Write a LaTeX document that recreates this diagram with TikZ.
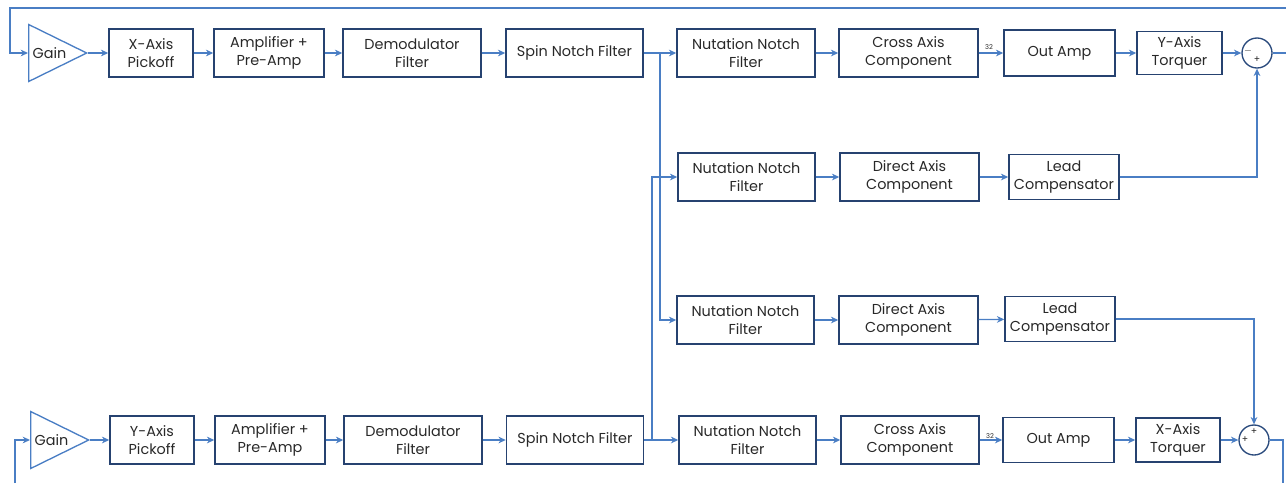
\documentclass[tikz,border=0pt]{standalone}
\usepackage{fontspec}
\setmainfont{Poppins}
\usetikzlibrary{arrows.meta,shapes.geometric}
\definecolor{lineblue}{RGB}{74,126,196}
\definecolor{boxblue}{RGB}{38,66,112}
\definecolor{txtgray}{RGB}{40,40,40}
\tikzset{
  blk/.style={draw=boxblue,line width=1.1pt,minimum height=36pt,inner sep=0pt,align=center,text=txtgray,font=\fontsize{10.8}{13.5}\selectfont},
  gainamp/.style={isosceles triangle,isosceles triangle stretches,shape border rotate=0,draw=lineblue,line width=1pt,minimum width=42.75pt,minimum height=43.5pt,inner sep=0pt,text=txtgray,font=\fontsize{10.8}{12}\selectfont},
  sumpt/.style={circle,draw=boxblue!85!lineblue,line width=1pt,minimum size=22.5pt,inner sep=0pt},
  sgn/.style={inner sep=0pt,text=txtgray,font=\fontsize{7}{7}\selectfont},
  tag/.style={inner sep=0pt,text=txtgray,font=\fontsize{5}{5}\selectfont},
  sig/.style={lineblue,line width=1pt,-{Stealth[length=5.5pt,width=5pt]}},
  wire/.style={lineblue,line width=1pt}
}
\begin{document}
\begin{tikzpicture}[x=0.75pt,y=-0.75pt]
        \useasboundingbox (0,0) rectangle (1286,483);
        %上排;
            \node[gainamp] (gainx) at (49.5,53) {Gain};
            \node[blk,minimum width=63pt] (pickx) at (151,53) {X-Axis\\Pickoff};
            \node[blk,minimum width=82.5pt] (ampx) at (269,53) {Amplifier +\\Pre-Amp};
            \node[blk,minimum width=103.5pt] (demx) at (412,53) {Demodulator\\Filter};
            \node[blk,minimum width=102.75pt] (spinx) at (574.5,53) {Spin Notch Filter};
            \node[blk,minimum width=103.5pt] (nnfa) at (746,53) {Nutation Notch\\Filter};
            \node[blk,minimum width=104.25pt] (cross1) at (908.5,53) {Cross Axis\\Component};
            \node[blk,minimum width=83.25pt,minimum height=34.5pt] (outa) at (1059.5,53) {Out Amp};
            \node[blk,minimum width=63.75pt,minimum height=32.25pt] (torqy) at (1179.5,53) {Y-Axis\\Torquer};
            \node[sumpt] (sum1) at (1257,53) {};
            \node[sgn] (m1) at (1248,51) {$-$};
            \node[sgn] (p1) at (1257,60) {+};
            \node[tag] (n1) at (989,47) {32};
        %中间两排;
            \node[blk,minimum width=102.75pt] (nnfb) at (746.5,177) {Nutation Notch\\Filter};
            \node[blk,minimum width=104.25pt] (direct1) at (909.5,177) {Direct Axis\\Component};
            \node[blk,minimum width=82.5pt,minimum height=34pt] (leadb) at (1064,177) {Lead\\Compensator};
            \node[blk,minimum width=102.75pt] (nnfc) at (745.5,320) {Nutation Notch\\Filter};
            \node[blk,minimum width=104.25pt] (direct2) at (908.5,320) {Direct Axis\\Component};
            \node[blk,minimum width=82.5pt,minimum height=34pt] (leadc) at (1060,319) {Lead\\Compensator};
        %下排;
            \node[gainamp] (gainy) at (51.5,440) {Gain};
            \node[blk,minimum width=63pt] (picky) at (152,440) {Y-Axis\\Pickoff};
            \node[blk,minimum width=82.5pt] (ampy) at (270,440) {Amplifier +\\Pre-Amp};
            \node[blk,minimum width=103.5pt] (demy) at (413,440) {Demodulator\\Filter};
            \node[blk,minimum width=102.75pt] (spiny) at (575,440) {Spin Notch Filter};
            \node[blk,minimum width=102.75pt] (nnfd) at (747.5,440) {Nutation Notch\\Filter};
            \node[blk,minimum width=103.5pt] (cross2) at (910,440) {Cross Axis\\Component};
            \node[blk,minimum width=83.25pt,minimum height=34pt] (outb) at (1058.5,440) {Out Amp};
            \node[blk,minimum width=63pt,minimum height=33pt] (torqx) at (1178,440) {X-Axis\\Torquer};
            \node[sumpt] (sum2) at (1254,440) {};
            \node[sgn] (p2) at (1254,432) {+};
            \node[sgn] (p3) at (1245,440) {+};
            \node[tag] (n2) at (990,436) {32};
        %连线;
            \coordinate (fbR) at (1286,8);
            \coordinate (fbL) at (10,8);
            \coordinate (inY) at (15,483);
            \coordinate (outX) at (1286,53);
            \coordinate (outY) at (1283,483);
            \coordinate (jx) at (660,53);
            \coordinate (jy) at (652,440);
            \draw[sig] (fbR) -- (fbL) |- (gainx.west);
            \draw[sig] (inY) |- (gainy.west);
            \draw[sig] (gainx.apex) -- (pickx.west);
            \draw[sig] (gainy.apex) -- (picky.west);
            \foreach \a/\b in {pickx/ampx,ampx/demx,demx/spinx,spinx/nnfa,nnfa/cross1,cross1/outa,outa/torqy,torqy/sum1,
                               picky/ampy,ampy/demy,demy/spiny,spiny/nnfd,nnfd/cross2,cross2/outb,outb/torqx,torqx/sum2,
                               nnfb/direct1,direct1/leadb,nnfc/direct2,direct2/leadc}
                \draw[sig] (\a) -- (\b);
            \draw[sig] (jx) |- (nnfc);
            \draw[sig] (jy) |- (nnfb);
            \draw[sig] (leadb) -| (sum1);
            \draw[sig] (leadc) -| (sum2);
            \draw[wire] (sum1) -- (outX);
            \draw[wire] (sum2) -| (outY);
    \end{tikzpicture}
\end{document}
